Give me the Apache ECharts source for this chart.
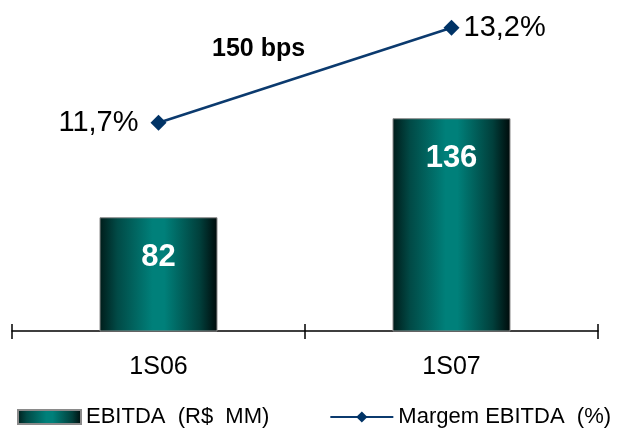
<!DOCTYPE html>
<html>
<head>
<meta charset="utf-8">
<title>EBITDA</title>
<script src="https://cdn.jsdelivr.net/npm/echarts@6/dist/echarts.min.js"></script>
<style>
  html, body { margin: 0; padding: 0; background: #fff; }
  #chart { width: 633px; height: 429px; }
</style>
</head>
<body>
<div id="chart"></div>
<script>
// Chart data
const periods = ["1S06", "1S07"];
const ebitda = [82, 136];            // R$ MM
const margin = [11.7, 13.2];         // %
const changeNote = "150 bps";

const fontFamily = "'Liberation Sans', Arial, sans-serif";

function fmtPct(v) {
  return v.toFixed(1).replace(".", ",") + "%";
}

const chartDom = document.getElementById("chart");
const myChart = echarts.init(chartDom);

// Teal cylinder-like gradient for the bars
const barGradient = new echarts.graphic.LinearGradient(0, 0, 1, 0, [
  { offset: 0, color: "#001c1a" },
  { offset: 0.15, color: "#014a46" },
  { offset: 0.45, color: "#00807a" },
  { offset: 0.55, color: "#00807a" },
  { offset: 0.85, color: "#013f3b" },
  { offset: 1, color: "#000a0a" },
]);

const barName = "EBITDA  (R$  MM)";
const lineName = "Margem EBITDA  (%)";

const option = {
  animation: false,
  textStyle: { fontFamily: fontFamily },
  grid: {
    left: 12,
    right: 35,
    top: 10,
    bottom: 98,
  },
  legend: {
    left: 12,
    top: 401,
    itemWidth: 63,
    itemHeight: 14,
    itemGap: 60,
    textStyle: { fontSize: 22, color: "#000", fontFamily: fontFamily },
    data: [
      { name: barName, icon: "rect" },
      { name: lineName },
    ],
  },
  graphic: [
    {
      type: "text",
      left: 212,
      top: 37,
      style: {
        text: changeNote,
        fontSize: 25,
        fontWeight: "bold",
        fill: "#000",
        fontFamily: fontFamily,
      },
    },
  ],
  xAxis: [
    {
      type: "category",
      data: periods,
      axisLine: { lineStyle: { color: "#000", width: 1.5 } },
      axisTick: { show: true, length: 8, lineStyle: { color: "#000", width: 1.5 } },
      axisLabel: { color: "#000", fontSize: 25, margin: 24 },
    },
    {
      // upper half of the crossing tick marks
      type: "category",
      data: periods,
      position: "bottom",
      axisLine: { show: false },
      axisTick: { show: true, inside: true, length: 7, lineStyle: { color: "#000", width: 1.5 } },
      axisLabel: { show: false },
    },
  ],
  yAxis: [
    { type: "value", min: 20, max: 195, show: false },
    { type: "value", min: 8.41, max: 13.48, show: false },
  ],
  series: [
    {
      name: barName,
      type: "bar",
      data: ebitda,
      barWidth: 118,
      itemStyle: {
        color: barGradient,
        borderColor: "#8a8a8a",
        borderWidth: 1,
      },
      label: {
        show: true,
        position: "insideTop",
        distance: 25,
        color: "#fff",
        fontSize: 31,
        fontWeight: "bold",
        fontFamily: fontFamily,
      },
    },
    {
      name: lineName,
      type: "line",
      yAxisIndex: 1,
      data: margin.map((v, i) => ({
        value: v,
        label: i === 0 ? { position: "left", distance: 12 } : { position: "right", distance: 4 },
      })),
      symbol: "diamond",
      symbolSize: 16,
      lineStyle: { color: "#0b3a6e", width: 2.5 },
      itemStyle: { color: "#003366" },
      label: {
        show: true,
        color: "#000",
        fontSize: 29,
        fontFamily: fontFamily,
        formatter: (p) => fmtPct(p.value),
      },
    },
  ],
};

myChart.setOption(option);

window.addEventListener("resize", function () {
  myChart.resize();
});
</script>
</body>
</html>
